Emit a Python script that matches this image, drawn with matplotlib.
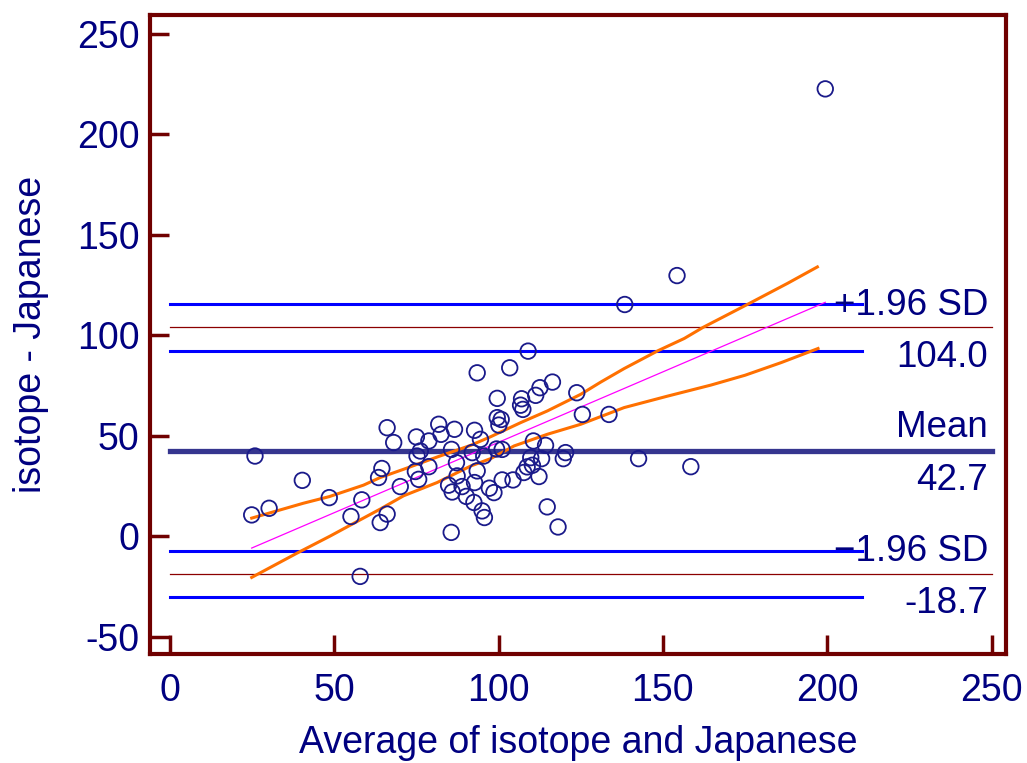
import matplotlib
matplotlib.use("Agg")
import matplotlib.pyplot as plt

plt.rcParams['font.family'] = ['Liberation Sans', 'DejaVu Sans']
plt.rcParams['axes.unicode_minus'] = False

# average of the two methods vs. difference (isotope - Japanese)
avg = [199.4, 154.3, 138.4, 133.6, 142.6, 158.5, 109.0, 103.4, 93.5, 99.6,
       107.0, 106.7, 107.4, 111.3, 112.6, 116.4, 123.8, 125.5, 99.6, 100.8,
       100.1, 110.6, 114.3, 120.4, 119.7, 101.1, 109.8, 113.1, 108.7, 110.3,
       107.7, 112.3, 101.1, 104.4, 97.2, 98.6, 95.0, 95.7, 114.8, 118.1,
       66.1, 68.1, 75.0, 78.8, 81.8, 82.5, 86.6, 92.7, 94.5, 75.2,
       76.2, 85.7, 87.2, 92.0, 95.5, 78.8, 74.7, 75.7, 87.4, 93.5,
       92.7, 64.5, 63.5, 70.1, 84.8, 85.9, 88.9, 90.2, 92.5, 66.1,
       64.0, 85.6, 25.9, 40.3, 24.9, 30.2, 48.5, 58.4, 55.1, 57.9, 99.4]
diff = [222.7, 129.8, 115.4, 60.7, 38.7, 34.7, 92.2, 83.9, 81.4, 68.7,
        68.5, 65.3, 63.2, 70.2, 74.0, 76.8, 71.5, 60.7, 59.1, 58.2,
        55.4, 47.5, 45.3, 41.7, 38.7, 43.3, 39.2, 38.7, 34.6, 35.4,
        31.8, 29.8, 28.1, 28.1, 24.0, 21.8, 12.7, 9.4, 14.7, 4.7,
        54.1, 46.7, 49.5, 47.5, 55.8, 50.8, 53.3, 52.8, 48.3, 40.0,
        42.5, 43.3, 36.7, 41.7, 40.0, 34.7, 32.3, 28.4, 30.1, 32.6,
        26.8, 33.8, 29.3, 24.8, 25.5, 22.1, 24.8, 19.9, 16.9, 11.1,
        6.9, 2.0, 40.0, 27.9, 10.7, 14.0, 19.3, 18.2, 9.9, -19.9, 43.5]

mean_diff = 42.7
upper_loa = 104.0
lower_loa = -18.7
upper_loa_ci = [92.4, 115.6]
lower_loa_ci = [-30.3, -7.1]

# regression line of differences on averages
reg_x = [24.9, 199.4]
reg_y = [-5.8, 116.5]

# confidence band around the regression line
band_hi_x = [24.9, 40.6, 48.5, 58.9, 64.0, 71.1, 81.3, 91.5, 97.6, 106.7,
             114.8, 125.0, 131.1, 138.2, 148.5, 156.5, 162.2, 175.9, 188.0, 197.0]
band_hi_y = [9.1, 16.5, 19.8, 25.5, 29.3, 33.4, 39.5, 45.3, 49.6, 56.6,
             62.4, 70.7, 76.8, 83.5, 92.4, 98.5, 104.0, 115.6, 126.0, 134.1]
band_lo_x = [24.9, 38.6, 48.8, 54.9, 64.0, 71.1, 81.3, 91.5, 97.6, 104.7,
             114.8, 125.0, 138.2, 151.4, 164.6, 175.0, 186.0, 197.2]
band_lo_y = [-20.4, -8.4, 0.2, 5.6, 13.6, 20.2, 26.8, 35.0, 38.7, 45.0,
             50.8, 55.8, 64.1, 69.8, 75.3, 80.2, 86.5, 93.5]

navy = '#000080'
frame = '#700000'

fig = plt.figure(figsize=(10.27, 7.63), dpi=100)
ax = fig.add_axes([0.1465, 0.1429, 0.8331, 0.8378])

# limits of agreement and their confidence intervals
for y in upper_loa_ci + lower_loa_ci:
    ax.plot([0, 210.5], [y, y], color='#0000ff', lw=2.2, zorder=2)
for y in [upper_loa, lower_loa]:
    ax.plot([0, 250], [y, y], color='#8b0000', lw=0.9, zorder=2)
ax.plot([0, 250], [mean_diff, mean_diff], color='#35358f', lw=3.8, zorder=2)

ax.plot(band_hi_x, band_hi_y, color='#ff7000', lw=2.2, zorder=3)
ax.plot(band_lo_x, band_lo_y, color='#ff7000', lw=2.2, zorder=3)
ax.plot(reg_x, reg_y, color='#ff00ff', lw=0.9, zorder=3)

ax.scatter(avg, diff, s=125, facecolors='none', edgecolors='#1a1a8a', linewidths=1.3, zorder=4)

# labels on the right
lab_x = 248.9
fs = 26.5
ax.annotate('+1.96 SD', (lab_x, upper_loa), xytext=(0, 9), textcoords='offset points',
            ha='right', va='baseline', fontsize=fs, color=navy)
ax.annotate('%.1f' % upper_loa, (lab_x, upper_loa), xytext=(0, -9), textcoords='offset points',
            ha='right', va='top', fontsize=fs, color=navy)
ax.annotate('Mean', (lab_x, mean_diff), xytext=(0, 10), textcoords='offset points',
            ha='right', va='baseline', fontsize=fs, color=navy)
ax.annotate('%.1f' % mean_diff, (lab_x, mean_diff), xytext=(0, -9), textcoords='offset points',
            ha='right', va='top', fontsize=fs, color=navy)
ax.annotate('\u22121.96 SD', (lab_x, lower_loa), xytext=(0, 9), textcoords='offset points',
            ha='right', va='baseline', fontsize=fs, color=navy)
ax.annotate('%.1f' % lower_loa, (lab_x, lower_loa), xytext=(0, -9), textcoords='offset points',
            ha='right', va='top', fontsize=fs, color=navy)

ax.set_xlim(-5.9, 254.4)
ax.set_ylim(-58.5, 259.6)
ax.set_xticks([0, 50, 100, 150, 200, 250])
ax.set_yticks([-50, 0, 50, 100, 150, 200, 250])

for s in ax.spines.values():
    s.set_color(frame)
    s.set_linewidth(3)
ax.tick_params(direction='in', length=14, width=2.5, color=frame,
               labelcolor=navy, labelsize=27)
ax.tick_params(axis='x', pad=14)
ax.tick_params(axis='y', pad=8)

ax.set_xlabel('Average of isotope and Japanese', fontsize=27, color=navy, labelpad=11)
ax.set_ylabel('isotope - Japanese', fontsize=27, color=navy, labelpad=20)

fig.savefig('out.png', dpi=100)
